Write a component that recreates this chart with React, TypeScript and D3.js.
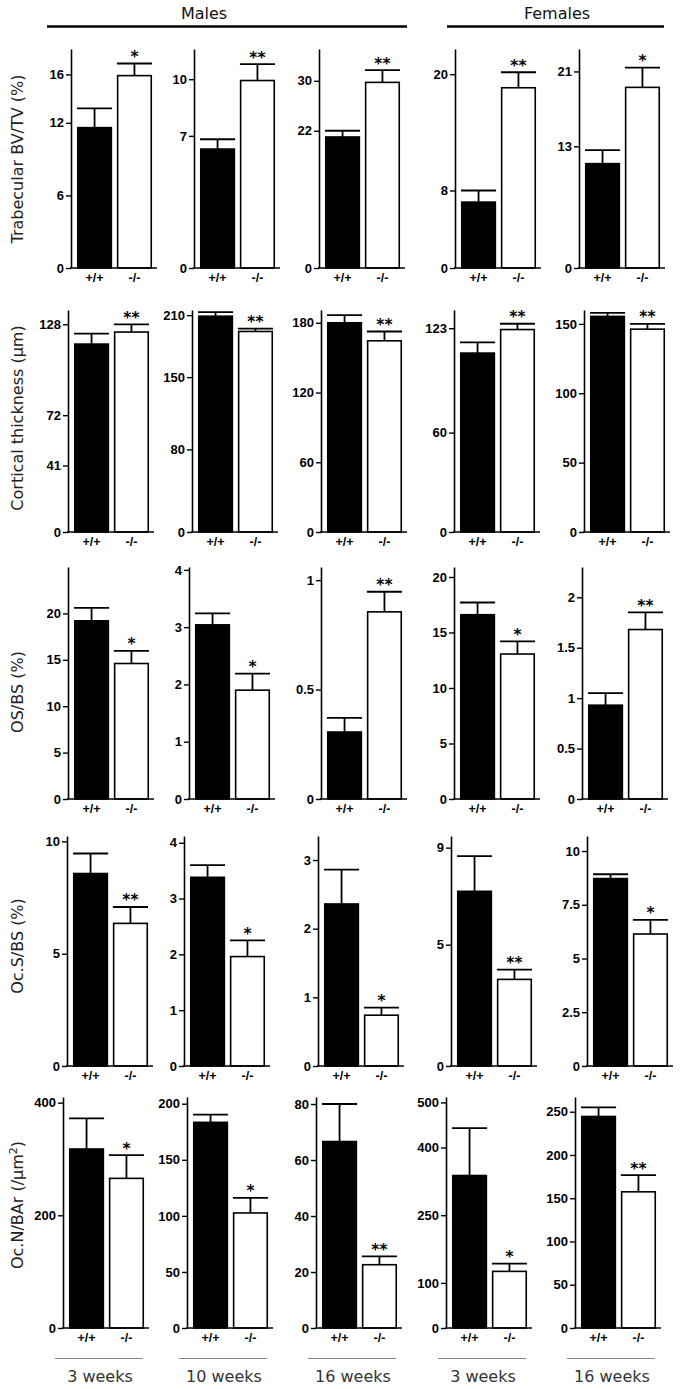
import React, { useRef, useEffect } from 'react';
import * as d3 from 'd3';

// ---- data ----
const genotypes = ['+/+', '-/-'];
const sexes = ['Males', 'Females'];
const ageLabels = ['3 weeks', '10 weeks', '16 weeks', '3 weeks', '16 weeks'];
const rowTitles = ['Trabecular BV/TV (%)', 'Cortical thickness (µm)', 'OS/BS (%)', 'Oc.S/BS (%)', 'Oc.N/BAr (/µm'];

// Trabecular BV/TV
const bvtvWt = [11.6, 6.3, 21.0, 6.8, 11.15];
const bvtvWtSem = [1.6, 0.52, 1.0, 1.2, 1.45];
const bvtvKo = [15.9, 9.93, 29.75, 18.6, 19.3];
const bvtvKoSem = [1.0, 0.87, 1.95, 1.6, 2.1];
const bvtvStars = ['*', '**', '**', '**', '*'];
const bvtvTicks = [[0, 6, 12, 16], [0, 7, 10], [0, 22, 30], [0, 8, 20], [0, 13, 21]];
const bvtvMax = [18.1, 11.6, 35.1, 22.6, 23.4];

// Cortical thickness
const ctWt = [115.8, 209, 180, 108, 155.4];
const ctWtSem = [6.4, 4, 6.6, 6.5, 2.6];
const ctKo = [123.2, 194.2, 164.5, 122.2, 146.2];
const ctKoSem = [4.8, 2.8, 8, 3.5, 3.8];
const ctStars = ['**', '**', '**', '**', '**'];
const ctTicks = [[0, 41, 72, 128], [0, 80, 150, 210], [0, 60, 120, 180], [0, 60, 123], [0, 50, 100, 150]];
const ctMax = [136.8, 215, 191, 134, 160];

// OS/BS
const osWt = [19.2, 3.04, 0.306, 16.6, 0.93];
const osWtSem = [1.4, 0.2, 0.065, 1.1, 0.12];
const osKo = [14.6, 1.9, 0.855, 13.06, 1.68];
const osKoSem = [1.37, 0.29, 0.092, 1.14, 0.17];
const osStars = ['*', '*', '**', '*', '**'];
const osTicks = [[0, 5, 10, 15, 20], [0, 1, 2, 3, 4], [0, 0.5, 1], [0, 5, 10, 15, 20], [0, 0.5, 1, 1.5, 2]];
const osMax = [25, 4.05, 1.06, 20.9, 2.3];

// Oc.S/BS
const ocsWt = [8.57, 3.38, 2.36, 7.2, 8.72];
const ocsWtSem = [0.89, 0.22, 0.5, 1.45, 0.2];
const ocsKo = [6.35, 1.96, 0.74, 3.57, 6.14];
const ocsKoSem = [0.73, 0.29, 0.11, 0.4, 0.66];
const ocsStars = ['**', '*', '*', '**', '*'];
const ocsTicks = [[0, 5, 10], [0, 1, 2, 3, 4], [0, 1, 2, 3], [0, 5, 9], [0, 2.5, 5, 7.5, 10]];
const ocsMax = [10.24, 4.12, 3.35, 9.48, 10.7];

// Oc.N/BAr
const ocnWt = [317.7, 183.4, 66.6, 338, 244.5];
const ocnWtSem = [54.3, 6.9, 13.4, 105, 10.4];
const ocnKo = [265.6, 102.6, 22.6, 125.5, 157.4];
const ocnKoSem = [41.4, 13.4, 3.0, 17.1, 19.3];
const ocnStars = ['*', '*', '**', '*', '**'];
const ocnTicks = [[0, 200, 400], [0, 50, 100, 150, 200], [0, 20, 40, 60, 80], [0, 100, 250, 400, 500], [0, 50, 100, 150, 200, 250]];
const ocnMax = [410, 206, 82.5, 512, 267];

const rows = [
  { wt: bvtvWt, wtSem: bvtvWtSem, ko: bvtvKo, koSem: bvtvKoSem, stars: bvtvStars, ticks: bvtvTicks, max: bvtvMax },
  { wt: ctWt, wtSem: ctWtSem, ko: ctKo, koSem: ctKoSem, stars: ctStars, ticks: ctTicks, max: ctMax },
  { wt: osWt, wtSem: osWtSem, ko: osKo, koSem: osKoSem, stars: osStars, ticks: osTicks, max: osMax },
  { wt: ocsWt, wtSem: ocsWtSem, ko: ocsKo, koSem: ocsKoSem, stars: ocsStars, ticks: ocsTicks, max: ocsMax },
  { wt: ocnWt, wtSem: ocnWtSem, ko: ocnKo, koSem: ocnKoSem, stars: ocnStars, ticks: ocnTicks, max: ocnMax },
];

// ---- layout ----
const W = 684;
const H = 1389;
const rowBase = [268, 532, 799, 1066, 1328];
const rowTop = [49, 310, 567, 836, 1097];
const titleY = [159, 418, 692, 946, 1205];
const axisX = [
  [71, 194, 319, 455, 579],
  [68, 192, 321, 454, 584],
  [68, 189, 321, 454, 582],
  [67, 184, 318, 451, 587],
  [63, 187, 316, 446, 575],
];
const tickFont = "'Liberation Sans', Arial, sans-serif";
const titleFont = "'DejaVu Sans', Verdana, sans-serif";

function App() {
  const svgRef = useRef(null);

  useEffect(() => {
    document.body.style.margin = '0';
    const svg = d3.select(svgRef.current);
    svg.selectAll('*').remove();
    svg.attr('width', W).attr('height', H);

    svg.append('rect').attr('width', W).attr('height', H).attr('fill', '#fff');

    // Sex headers
    const headers = [
      { label: sexes[0], x1: 47, x2: 407, tx: 204 },
      { label: sexes[1], x1: 447, x2: 664, tx: 557 },
    ];
    headers.forEach(h => {
      svg.append('text')
        .attr('x', h.tx).attr('y', 19)
        .attr('text-anchor', 'middle')
        .attr('font-family', titleFont)
        .attr('font-size', 16)
        .attr('fill', '#111')
        .text(h.label);
      svg.append('line')
        .attr('x1', h.x1).attr('x2', h.x2)
        .attr('y1', 26.5).attr('y2', 26.5)
        .attr('stroke', '#000').attr('stroke-width', 2.5);
    });

    rows.forEach((row, r) => {
      // Row title (rotated)
      const t = svg.append('text')
        .attr('transform', `translate(23,${titleY[r]}) rotate(-90)`)
        .attr('text-anchor', 'middle')
        .attr('font-family', titleFont)
        .attr('font-size', 16)
        .attr('fill', '#222')
        .text(rowTitles[r]);
      if (r === 4) {
        t.append('tspan').attr('baseline-shift', 'super').attr('font-size', 11).text('2');
        t.append('tspan').text(')');
      }

      for (let c = 0; c < 5; c++) {
        const ax = axisX[r][c];
        const y = d3.scaleLinear()
          .domain([0, row.max[c]])
          .range([rowBase[r], rowTop[r]]);
        const x = d3.scaleBand()
          .domain(genotypes)
          .range([ax + 6, ax + 81])
          .paddingInner(0.12)
          .paddingOuter(0);

        const g = svg.append('g');

        const means = [row.wt[c], row.ko[c]];
        const sems = [row.wtSem[c], row.koSem[c]];

        genotypes.forEach((gt, i) => {
          const bx = x(gt);
          const bw = x.bandwidth();
          const top = means[i] + sems[i];
          // error bar
          g.append('line')
            .attr('x1', bx + bw / 2).attr('x2', bx + bw / 2)
            .attr('y1', y(means[i])).attr('y2', y(top))
            .attr('stroke', '#000').attr('stroke-width', 1.8);
          g.append('line')
            .attr('x1', bx).attr('x2', bx + bw)
            .attr('y1', y(top)).attr('y2', y(top))
            .attr('stroke', '#000').attr('stroke-width', 1.8);
          // bar
          g.append('rect')
            .attr('x', bx + 0.75)
            .attr('y', y(means[i]))
            .attr('width', bw - 1.5)
            .attr('height', rowBase[r] - y(means[i]))
            .attr('fill', i === 0 ? '#000' : '#fff')
            .attr('stroke', '#000')
            .attr('stroke-width', 1.6);
          // genotype label
          g.append('text')
            .attr('x', bx + bw / 2)
            .attr('y', rowBase[r] + 14)
            .attr('text-anchor', 'middle')
            .attr('font-family', tickFont)
            .attr('font-weight', 'bold')
            .attr('font-size', 12.5)
            .text(gt);
        });

        // significance stars above knockout bar
        const koTop = row.ko[c] + row.koSem[c];
        g.append('text')
          .attr('x', x(genotypes[1]) + x.bandwidth() / 2)
          .attr('y', y(koTop) - 1.5)
          .attr('text-anchor', 'middle')
          .attr('font-family', titleFont)
          .attr('font-weight', 'bold')
          .attr('font-size', 15.5)
          .text(row.stars[c]);

        // x axis baseline
        g.append('line')
          .attr('x1', ax - 1).attr('x2', ax + 86)
          .attr('y1', rowBase[r]).attr('y2', rowBase[r])
          .attr('stroke', '#000').attr('stroke-width', 1.6);

        // y axis
        const yAxis = g.append('g')
          .attr('transform', `translate(${ax},0)`)
          .call(d3.axisLeft(y)
            .tickValues(row.ticks[c])
            .tickSize(5)
            .tickSizeOuter(0)
            .tickPadding(2)
            .tickFormat(d => String(d)));
        yAxis.select('.domain').attr('stroke-width', 1.6);
        yAxis.selectAll('.tick line').attr('stroke-width', 1.4);
        yAxis.selectAll('text')
          .attr('font-family', tickFont)
          .attr('font-weight', 'bold')
          .attr('font-size', 13)
          .attr('fill', '#000');
      }
    });

    // Age labels under the last row
    ageLabels.forEach((lab, c) => {
      const ax = axisX[4][c];
      svg.append('line')
        .attr('x1', ax - 8).attr('x2', ax + 80)
        .attr('y1', 1358.5).attr('y2', 1358.5)
        .attr('stroke', '#888').attr('stroke-width', 1);
      svg.append('text')
        .attr('x', ax + 37).attr('y', 1382)
        .attr('text-anchor', 'middle')
        .attr('font-family', titleFont)
        .attr('font-size', 16)
        .attr('fill', '#333')
        .text(lab);
    });
  }, []);

  return (
    <div style={{ width: W, height: H }}>
      <svg ref={svgRef} style={{ display: 'block' }}></svg>
    </div>
  );
}

export default App;
